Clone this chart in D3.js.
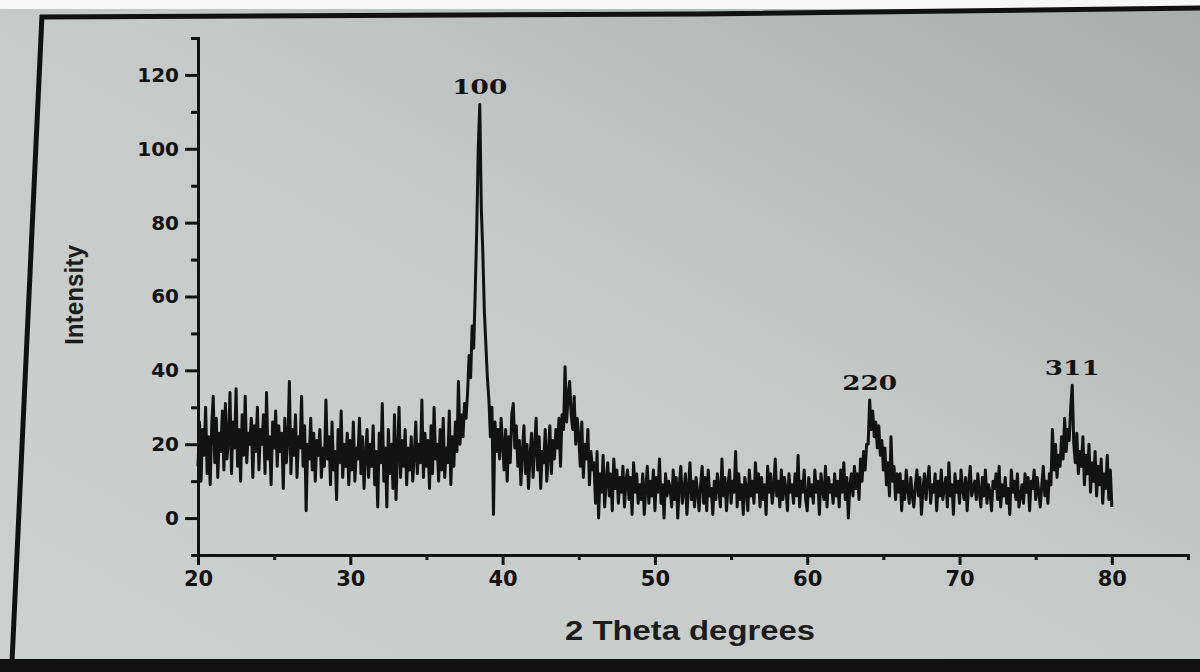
<!DOCTYPE html>
<html>
<head>
<meta charset="utf-8">
<script src="https://cdn.jsdelivr.net/npm/d3@7"></script>
<style>
  html, body { margin: 0; padding: 0; background: #ffffff; }
  svg { display: block; }
</style>
</head>
<body>
<svg id="chart" width="1200" height="672"></svg>
<script>
// XRD scan: 2θ from 20° to 80°, 0.1° step
const scanStart = 20;
const scanStep = 0.1;

// Intensity readings, one row per degree (20.0 … 20.9, 21.0 … 21.9, …)
const intensity = [
  14,26,10,24,17,30,12,22,9,25,
  33,15,27,11,23,18,29,13,31,16,
  21,34,12,26,19,35,14,24,10,28,
  17,33,15,23,20,27,11,25,18,30,
  13,24,20,28,12,34,16,22,9,26,
  19,29,14,25,18,23,8,27,15,21,
  37,12,24,17,28,11,22,19,33,14,
  25,2,20,16,27,13,23,10,21,17,
  24,11,19,14,32,16,22,9,26,13,
  18,5,24,15,29,11,20,14,23,9,
  21,13,26,10,19,16,27,12,22,8,
  17,24,11,20,14,25,9,18,3,23,
  15,31,10,19,3,24,12,20,8,28,
  5,18,30,11,21,14,24,9,19,13,
  22,10,17,26,12,20,15,32,11,23,
  14,21,8,25,12,30,16,20,10,24,
  13,27,11,19,15,29,9,22,14,26,
  18,37,20,28,22,31,27,34,44,38,
  52,46,61,78,100,112,84,72,56,47,
  38,32,22,30,1,26,18,24,16,27,
  20,13,24,10,22,15,28,31,19,25,
  14,21,9,18,25,12,20,8,17,23,
  11,19,27,13,22,8,18,15,24,10,
  17,25,12,21,16,24,19,27,14,28,
  24,41,26,33,37,28,24,33,20,27,
  22,14,26,11,20,16,24,9,18,13,
  15,4,18,0,12,7,17,3,10,15,
  6,12,2,16,8,13,4,11,7,14,
  3,10,13,5,11,1,15,7,12,4,
  9,5,12,1,8,14,4,10,6,13,
  2,11,7,16,4,9,0,12,6,10,
  8,3,13,5,11,0,9,14,4,7,
  12,1,8,15,5,10,3,11,7,2,
  9,14,4,11,2,13,6,8,1,10,
  5,12,8,3,16,6,11,2,9,13,
  4,10,7,18,3,12,5,9,1,11,
  8,2,13,6,10,4,15,7,12,3,
  11,5,9,1,14,7,12,4,8,16,
  6,10,3,13,5,11,8,2,12,7,
  9,4,12,6,17,3,10,7,13,5,
  2,11,6,9,4,13,7,10,1,12,
  8,5,14,3,11,7,9,4,12,6,
  10,3,13,7,15,5,11,0,9,12,
  6,14,8,12,5,16,10,18,13,20,
  20,32,24,29,22,26,19,25,17,21,
  13,19,9,15,6,22,10,14,5,12,
  7,12,2,10,5,13,8,4,11,6,
  3,9,13,6,11,1,8,12,5,10,
  14,4,9,7,12,2,10,6,13,5,
  8,11,3,15,6,9,1,12,7,10,
  4,13,8,5,11,2,9,14,6,8,
  10,5,12,7,3,11,6,13,4,9,
  7,2,10,8,12,5,14,3,9,6,
  11,4,8,1,13,7,10,5,12,3,
  6,9,4,12,7,11,2,10,8,13,
  5,11,7,3,9,14,6,10,4,12,
  9,24,13,20,11,17,14,22,16,27,
  18,24,21,30,36,20,15,23,12,18,
  14,22,9,17,12,20,7,15,10,18,
  6,14,9,16,4,12,8,17,5,13,
  3
];

// Axis ticks
const xMajorTicks = [20, 30, 40, 50, 60, 70, 80];
const xMinorTicks = [25, 35, 45, 55, 65, 75, 85];
const yMajorTicks = [0, 20, 40, 60, 80, 100, 120];
const yMinorTicks = [-10, 10, 30, 50, 70, 90, 110, 130];

// Reflection labels (hkl) and where they sit
const peakLabels = ["100", "220", "311"];
const peakAngles = [38.5, 64.1, 77.4];
const peakHeights = [112, 32, 36];

const xTitle = "2 Theta degrees";
const yTitle = "Intensity";

const svg = d3.select("#chart");
const W = 1200, H = 672;
const ink = "#121212";

// Paper backdrop
const defs = svg.append("defs");
const grad = defs.append("linearGradient")
  .attr("id", "paper").attr("x1", "0").attr("y1", "1").attr("x2", "1").attr("y2", "0");
grad.append("stop").attr("offset", "0").attr("stop-color", "#cdd1d0");
grad.append("stop").attr("offset", "0.55").attr("stop-color", "#c5c9c8");
grad.append("stop").attr("offset", "1").attr("stop-color", "#a8acaa");
svg.append("rect").attr("width", W).attr("height", H).attr("fill", "url(#paper)");
svg.append("rect").attr("width", W).attr("height", 9).attr("fill", "#f6f6f6");

// Sheet frame
const frame = d3.line();
svg.append("path").attr("d", frame([[40, 17], [700, 14], [1200, 8]]))
  .attr("fill", "none").attr("stroke", "#111").attr("stroke-width", 5);
svg.append("path").attr("d", frame([[42, 15], [12, 662]]))
  .attr("fill", "none").attr("stroke", "#111").attr("stroke-width", 5);
svg.append("rect").attr("x", 0).attr("y", 659).attr("width", W).attr("height", 13).attr("fill", "#111");

// Scales
const x = d3.scaleLinear().domain([20, 85]).range([198, 1188]);
const y = d3.scaleLinear().domain([-10, 130]).range([555, 38]);

// Trace
const line = d3.line()
  .x((d, i) => x(scanStart + i * scanStep))
  .y(d => y(d));
svg.append("path")
  .datum(intensity)
  .attr("d", line)
  .attr("fill", "none")
  .attr("stroke", ink)
  .attr("stroke-width", 3)
  .attr("stroke-linejoin", "round");

// Axes
function styleAxis(g) {
  g.select(".domain").attr("stroke", ink).attr("stroke-width", 3);
  g.selectAll(".tick line").attr("stroke", ink).attr("stroke-width", 3);
  g.selectAll(".tick text").attr("fill", ink);
}

const xAxisMinor = svg.append("g").attr("transform", `translate(0,${y(-10)})`)
  .call(d3.axisBottom(x).tickValues(xMinorTicks).tickSize(5).tickFormat(""));
styleAxis(xAxisMinor);
const xAxis = svg.append("g").attr("transform", `translate(0,${y(-10)})`)
  .call(d3.axisBottom(x).tickValues(xMajorTicks).tickSize(10).tickPadding(6).tickSizeOuter(0))
  .attr("font-family", "'DejaVu Sans', sans-serif")
  .attr("font-size", 21)
  .attr("font-weight", "bold");
styleAxis(xAxis);

const yAxisMinor = svg.append("g").attr("transform", `translate(${x(20)},0)`)
  .call(d3.axisLeft(y).tickValues(yMinorTicks).tickSize(7).tickFormat(""));
styleAxis(yAxisMinor);
const yAxis = svg.append("g").attr("transform", `translate(${x(20)},0)`)
  .call(d3.axisLeft(y).tickValues(yMajorTicks).tickSize(13).tickPadding(6).tickSizeOuter(0))
  .attr("font-family", "'DejaVu Sans', sans-serif")
  .attr("font-size", 20)
  .attr("font-weight", "bold");
styleAxis(yAxis);

// Axis titles
svg.append("text")
  .attr("x", 690).attr("y", 640)
  .attr("text-anchor", "middle")
  .attr("font-family", "'Liberation Sans', Arial, sans-serif")
  .attr("font-size", 27).attr("font-weight", "bold")
  .attr("textLength", 250).attr("lengthAdjust", "spacingAndGlyphs")
  .attr("fill", "#1c1c1c")
  .text(xTitle);

svg.append("text")
  .attr("transform", "translate(83,295) rotate(-90)")
  .attr("text-anchor", "middle")
  .attr("font-family", "'Liberation Sans Narrow', 'Liberation Sans', Arial, sans-serif")
  .attr("font-size", 25).attr("font-weight", "bold")
  .attr("textLength", 100).attr("lengthAdjust", "spacingAndGlyphs")
  .attr("fill", "#1c1c1c")
  .text(yTitle);

// Reflection labels above their peaks
svg.append("g").selectAll("text")
  .data(peakLabels)
  .join("text")
  .attr("x", (d, i) => x(peakAngles[i]))
  .attr("y", (d, i) => y(peakHeights[i]) - 10)
  .attr("text-anchor", "middle")
  .attr("font-family", "'DejaVu Serif', 'Liberation Serif', serif")
  .attr("font-size", 20).attr("font-weight", "bold")
  .attr("textLength", 55).attr("lengthAdjust", "spacingAndGlyphs")
  .attr("fill", ink)
  .text(d => d);
</script>
</body>
</html>
